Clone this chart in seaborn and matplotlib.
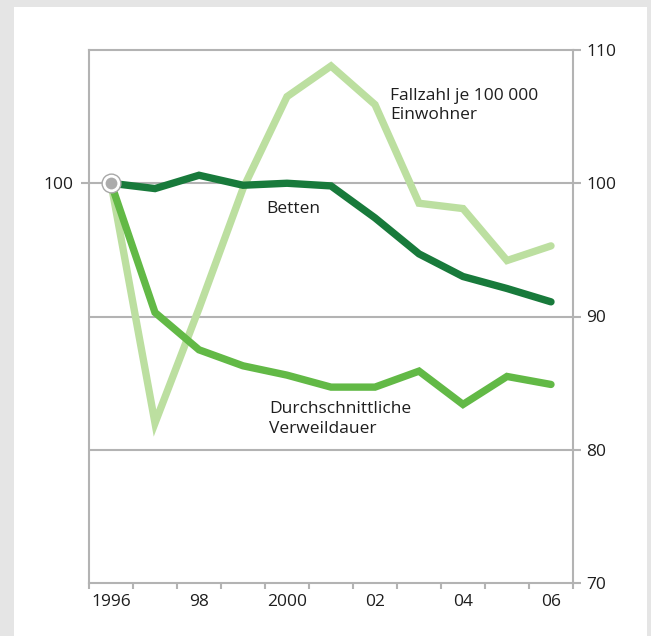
"""Index-Verlauf Krankenhaus: Betten, Fallzahl, Verweildauer."""

import matplotlib

matplotlib.use("Agg")
import matplotlib.pyplot as plt
import numpy as np
import pandas as pd
import seaborn as sns
from matplotlib.patches import Rectangle

years = np.arange(1996, 2007)
betten = [100.0, 99.6, 100.6, 99.85, 100.0, 99.8, 97.4, 94.7, 93.0, 92.1, 91.1]
fallzahl = [100.0, 82.0, 90.6, 99.6, 106.5, 108.8, 105.9, 98.5, 98.1, 94.2, 95.3]
verweildauer = [100.0, 90.3, 87.5, 86.3, 85.6, 84.7, 84.7, 85.9, 83.4, 85.5, 84.9]

tick_years = [1996, 1998, 2000, 2002, 2004, 2006]
tick_labels = ["1996", "98", "2000", "02", "04", "06"]
right_ticks = [70, 80, 90, 100, 110]

LIGHT = "#bcdfa0"
MEDIUM = "#62b946"
DARK = "#187a3b"
GRID = "#b3b3b3"
TEXT = "#1e1e1e"
FS = 12.5

sns.set_theme(style="white")
plt.rcParams["font.family"] = ["Open Sans", "DejaVu Sans"]

data = pd.DataFrame(
    {
        "jahr": np.concatenate([years + 0.5] * 3),
        "wert": betten + fallzahl + verweildauer,
        "reihe": ["Betten"] * 11 + ["Fallzahl"] * 11 + ["Verweildauer"] * 11,
    }
)

fig = plt.figure(figsize=(6.51, 6.36), dpi=100)
fig.patch.set_facecolor("#e5e5e5")
fig.add_artist(
    Rectangle((14 / 651, 0), 633 / 651, 1 - 7 / 636, transform=fig.transFigure,
              facecolor="white", edgecolor="none", zorder=0)
)

ax = fig.add_axes([89 / 651, 1 - 583 / 636, 484 / 651, 533 / 636])
ax.set_facecolor("none")

for name, color, z in [("Fallzahl", LIGHT, 3), ("Verweildauer", MEDIUM, 4), ("Betten", DARK, 5)]:
    sns.lineplot(
        data=data[data["reihe"] == name], x="jahr", y="wert", color=color,
        linewidth=5.3, ax=ax, zorder=z, solid_joinstyle="miter",
    )

ax.plot([years[0] + 0.5], [betten[0]], "o", ms=13.5, mfc="white", mec="#a8a8a8", mew=1.0, zorder=6)
ax.plot([years[0] + 0.5], [betten[0]], "o", ms=8.5, mfc="#ababab", mec="none", zorder=7)

ax.set_xlim(1996, 2007)
ax.set_ylim(70, 110)
ax.set_xlabel("")
ax.set_ylabel("")

for v in [80, 90, 100]:
    ax.axhline(v, color=GRID, linewidth=1.5, zorder=1)

for side in ["left", "right", "top", "bottom"]:
    ax.spines[side].set_color(GRID)
    ax.spines[side].set_linewidth(1.5)

ax.set_xticks(np.arange(1996, 2008))
ax.set_xticklabels([])
ax.set_xticks([y + 0.5 for y in tick_years], minor=True)
ax.set_xticklabels(tick_labels, minor=True)
ax.tick_params(axis="x", which="major", length=4.3, width=1.5, color=GRID, direction="out", bottom=True)
ax.tick_params(axis="x", which="minor", length=0, pad=8, labelsize=FS, labelcolor=TEXT)

ax.set_yticks([100])
ax.set_yticklabels(["100"])
ax.tick_params(axis="y", length=5.5, width=1.5, color=GRID, direction="out", left=True,
               pad=5.5, labelsize=FS, labelcolor=TEXT)

ax2 = ax.twinx()
ax2.set_ylim(70, 110)
ax2.set_yticks(right_ticks)
ax2.set_yticklabels([str(v) for v in right_ticks])
ax2.tick_params(axis="y", length=5.5, width=1.5, color=GRID, direction="out", right=True,
                pad=4, labelsize=FS, labelcolor=TEXT)
for side in ["left", "right", "top", "bottom"]:
    ax2.spines[side].set_visible(False)

ax.text(2000.02, 98.1, "Betten", fontsize=FS, color=TEXT, va="center", ha="left", zorder=8)
ax.text(2002.84, 105.8, "Fallzahl je 100 000\nEinwohner", fontsize=FS, color=TEXT,
        va="center", ha="left", linespacing=1.25, zorder=8)
ax.text(2000.1, 82.3, "Durchschnittliche\nVerweildauer", fontsize=FS, color=TEXT,
        va="center", ha="left", linespacing=1.3, zorder=8)

fig.savefig("out.png", dpi=100, facecolor=fig.get_facecolor())
